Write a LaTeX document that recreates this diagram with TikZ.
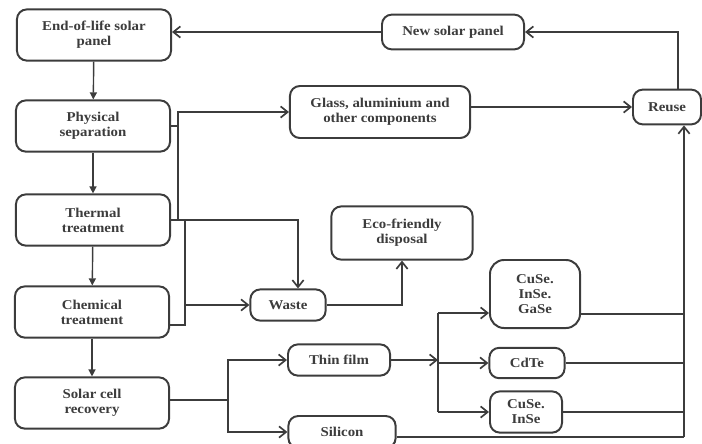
\documentclass[tikz,border=0pt]{standalone}
\usepackage{fontspec}
\setmainfont{Liberation Serif}[FakeStretch=1.1]
\usepackage{tikz}
\usetikzlibrary{arrows.meta, positioning, calc}
\usepackage{xcolor}

\definecolor{inkgray}{HTML}{3C3C3C}

\begin{document}
\begin{tikzpicture}[
x=0.025cm, y=-0.025cm,
box/.style={
draw=inkgray,
line width=1.4pt,
rounded corners=7pt,
fill=white,
align=center,
text=inkgray,
font=\fontsize{9.6}{10.6}\selectfont\bfseries,
inner sep=1pt
},
flow/.style={draw=inkgray, line width=1.2pt},
arr/.style={flow, -{Straight Barb[length=5pt, width=8pt, line width=1.2pt]}},
down/.style={flow, line width=1pt, -{Triangle[length=5pt, width=5pt]}}
]

\useasboundingbox (0,0) rectangle (702,443);

% -------- Left column: the recycling steps --------
\node[box, minimum width=3.85cm, minimum height=1.28cm] (eol) at (94,35)
{End-of-life solar\\panel};

\node[box, minimum width=3.85cm, minimum height=1.28cm] (phys) at (93,126)
{Physical\\separation};

\node[box, minimum width=3.85cm, minimum height=1.28cm] (therm) at (93,220)
{Thermal\\treatment};

\node[box, minimum width=3.85cm, minimum height=1.28cm] (chem) at (92,312)
{Chemical\\treatment};

\node[box, minimum width=3.85cm, minimum height=1.28cm] (scr) at (92,403)
{Solar cell\\recovery};

% -------- Middle: recovered parts --------
\node[box, minimum width=4.5cm, minimum height=1.3cm] (glass) at (380,112)
{Glass, aluminium and\\other components};

\node[box, minimum width=3.55cm, minimum height=0.87cm] (newpanel) at (453,32)
{New solar panel};

\node[box, minimum width=1.7cm, minimum height=0.87cm] (reuse) at (667,107)
{Reuse};

\node[box, minimum width=3.53cm, minimum height=1.33cm] (eco) at (402,233)
{Eco-friendly\\disposal};

\node[box, minimum width=1.88cm, minimum height=0.78cm] (waste) at (288,305)
{Waste};

\node[box, minimum width=2.55cm, minimum height=0.78cm] (thin) at (339,360)
{Thin film};

\node[box, minimum width=2.68cm, minimum height=0.8cm] (silicon) at (342,432)
{Silicon};

% -------- Thin film materials --------
\node[box, rounded corners=10pt, minimum width=2.25cm, minimum height=1.7cm] (gase) at (535,294)
{CuSe.\\InSe.\\GaSe};

\node[box, minimum width=1.88cm, minimum height=0.76cm] (cdte) at (527,363)
{CdTe};

\node[box, minimum width=1.8cm, minimum height=1.03cm] (inse) at (526,412)
{CuSe.\\InSe};

% -------- Helper points --------
\coordinate (busA) at (178,220);
\coordinate (busB) at (185,220);
\coordinate (split) at (228,400);
\coordinate (busC) at (438,360);
\coordinate (rbus) at (684,437);

% -------- Left column arrows --------
\draw[down] (eol) -- (phys);
\draw[down] (phys) -- (therm);
\draw[down] (therm) -- (chem);
\draw[down] (chem) -- (scr);

% -------- Separation and treatment outputs --------
\draw[flow] (phys.east) -- (phys.east -| busA);
\draw[arr] (busA) |- (glass.west);
\draw[arr] (therm.east) -| ([xshift=0.25cm]waste.north);
\draw[flow] ([yshift=-0.33cm]chem.east) -| (busB);
\draw[arr] (busB |- waste.west) -- (waste.west);
\draw[arr] (waste.east) -| (eco.south);

% -------- Reuse loop --------
\draw[arr] (glass.east |- reuse.west) -- (reuse.west);
\draw[arr] ([xshift=0.28cm]reuse.north) |- (newpanel.east);
\draw[arr] (newpanel.west) -- (newpanel.west -| eol.east);

% -------- Solar cell recovery --------
\draw[flow] (scr.east |- split) -- (split);
\draw[arr] (split) |- (thin.west);
\draw[arr] (split) |- (silicon.west);
\draw[arr] (thin.east) -- (busC);
\draw[flow] (busC |- 0,313) -- (busC |- inse.west);
\draw[arr] (busC |- 0,313) -- (gase.west |- 0,313);
\draw[arr] (busC |- cdte.west) -- (cdte.west);
\draw[arr] (busC |- inse.west) -- (inse.west);

% -------- Back to reuse --------
\draw[flow] (gase.east |- 0,314) -- (rbus |- 0,314);
\draw[flow] (cdte.east) -- (cdte.east -| rbus);
\draw[flow] (inse.east) -- (inse.east -| rbus);
\draw[flow] (silicon.east |- rbus) -- (rbus);
\draw[arr] (rbus) -- (rbus |- reuse.south);

\end{tikzpicture}
\end{document}
